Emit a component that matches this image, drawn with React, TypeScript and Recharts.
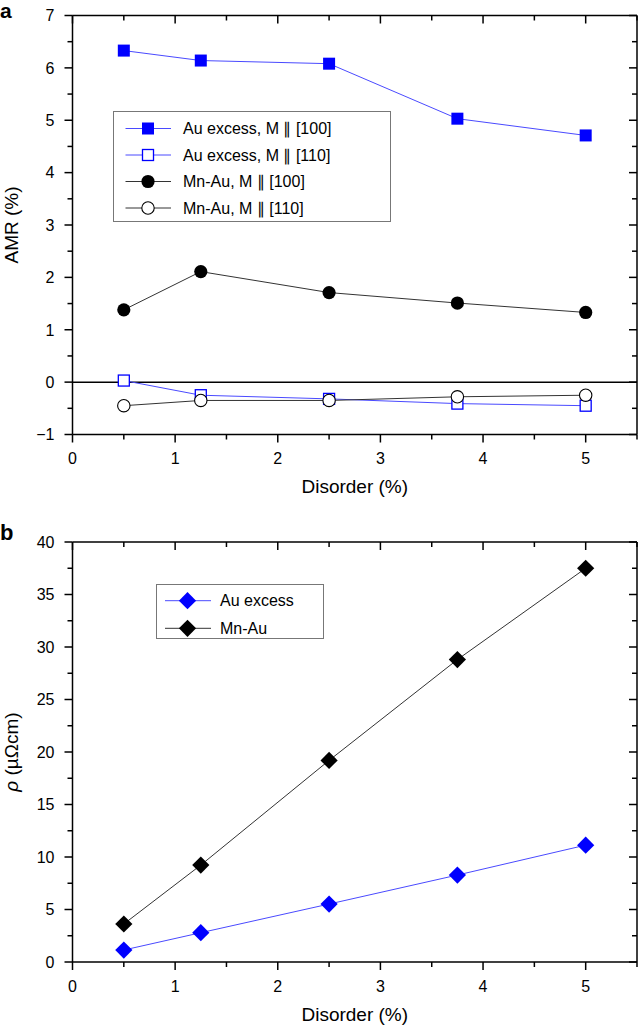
import React from "react";
import { Label, Legend, Line, LineChart, ReferenceLine, XAxis, YAxis } from "recharts";

// values
const disorder = [0.5, 1.25, 2.5, 3.75, 5];
const amrAuExcess100 = [6.33, 6.14, 6.08, 5.03, 4.71];
const amrAuExcess110 = [0.03, -0.25, -0.32, -0.41, -0.45];
const amrMnAu100 = [1.38, 2.11, 1.71, 1.51, 1.33];
const amrMnAu110 = [-0.45, -0.35, -0.35, -0.28, -0.25];
const rhoAuExcess = [1.14, 2.79, 5.52, 8.28, 11.13];
const rhoMnAu = [3.62, 9.23, 19.2, 28.8, 37.5];

const xTicks = [0, 0.5, 1, 1.5, 2, 2.5, 3, 3.5, 4, 4.5, 5, 5.5];
const xTickLabels = [0, 1, 2, 3, 4, 5];
const amrTicks = [-1, -0.5, 0, 0.5, 1, 1.5, 2, 2.5, 3, 3.5, 4, 4.5, 5, 5.5, 6, 6.5, 7];
const amrTickLabels = [-1, 0, 1, 2, 3, 4, 5, 6, 7];
const rhoTicks = [0, 2.5, 5, 7.5, 10, 12.5, 15, 17.5, 20, 22.5, 25, 27.5, 30, 32.5, 35, 37.5, 40];
const rhoTickLabels = [0, 5, 10, 15, 20, 25, 30, 35, 40];

const FONT = "'Liberation Sans', Arial, Helvetica, sans-serif";
const BLUE = "#0000ff";
const BLUE_LINE = "#4a4aff";
const DARK_LINE = "#333333";

const amrData = disorder.map((x, i) => ({
  x,
  au100: amrAuExcess100[i],
  au110: amrAuExcess110[i],
  mn100: amrMnAu100[i],
  mn110: amrMnAu110[i],
}));

const rhoData = disorder.map((x, i) => ({
  x,
  au: rhoAuExcess[i],
  mn: rhoMnAu[i],
}));

type Marker = "square" | "openSquare" | "circle" | "openCircle" | "diamond";

interface Series {
  key: string;
  name: string;
  line: string;
  color: string;
  marker: Marker;
}

const amrSeries: Series[] = [
  { key: "au100", name: "Au excess, M \u2225 [100]", line: BLUE_LINE, color: BLUE, marker: "square" },
  { key: "au110", name: "Au excess, M \u2225 [110]", line: BLUE_LINE, color: BLUE, marker: "openSquare" },
  { key: "mn100", name: "Mn-Au, M \u2225 [100]", line: DARK_LINE, color: "#000", marker: "circle" },
  { key: "mn110", name: "Mn-Au, M \u2225 [110]", line: DARK_LINE, color: "#000", marker: "openCircle" },
];

const rhoSeries: Series[] = [
  { key: "au", name: "Au excess", line: BLUE_LINE, color: BLUE, marker: "diamond" },
  { key: "mn", name: "Mn-Au", line: DARK_LINE, color: "#000", marker: "diamond" },
];

function MarkerShape({ cx, cy, marker, color }: { cx: number; cy: number; marker: Marker; color: string }) {
  if (cx == null || cy == null) return null;
  switch (marker) {
    case "square":
      return <rect x={cx - 6} y={cy - 6} width={12} height={12} fill={color} />;
    case "openSquare":
      return <rect x={cx - 5.5} y={cy - 5.5} width={11} height={11} fill="#fff" stroke={color} strokeWidth={1.3} />;
    case "circle":
      return <circle cx={cx} cy={cy} r={6.6} fill={color} />;
    case "openCircle":
      return <circle cx={cx} cy={cy} r={6.2} fill="#fff" stroke={color} strokeWidth={1.1} />;
    default:
      return (
        <polygon
          points={`${cx},${cy - 8.6} ${cx + 8.6},${cy} ${cx},${cy + 8.6} ${cx - 8.6},${cy}`}
          fill={color}
        />
      );
  }
}

function dotFor(s: Series) {
  return (p: any) => <MarkerShape key={`${s.key}-${p.index}`} cx={p.cx} cy={p.cy} marker={s.marker} color={s.color} />;
}

// bottom axis tick: outward tick + label, plus the inward tick on the top frame
function XTick(props: any) {
  const { x, y, payload, plotTop, labels } = props;
  const v = payload.value;
  const major = labels.includes(v);
  const len = major ? 8 : 5;
  return (
    <g>
      <line x1={x} x2={x} y1={y} y2={y + len} stroke="#000" strokeWidth={1.5} />
      <line x1={x} x2={x} y1={plotTop} y2={plotTop + len} stroke="#000" strokeWidth={1.5} />
      {major && (
        <text x={x} y={y + 29.5} textAnchor="middle" fontFamily={FONT} fontSize={16} fill="#000">
          {v}
        </text>
      )}
    </g>
  );
}

// left axis tick: outward tick + label, plus the inward tick on the right frame
function YTick(props: any) {
  const { x, y, payload, plotRight, labels } = props;
  const v = payload.value;
  const major = labels.includes(v);
  const len = major ? 8 : 5;
  return (
    <g>
      <line x1={x - len} x2={x} y1={y} y2={y} stroke="#000" strokeWidth={1.5} />
      <line x1={plotRight - len} x2={plotRight} y1={y} y2={y} stroke="#000" strokeWidth={1.5} />
      {major && (
        <text x={x - 18} y={y} dy="0.36em" textAnchor="end" fontFamily={FONT} fontSize={16} fill="#000">
          {v < 0 ? `\u2212${Math.abs(v)}` : v}
        </text>
      )}
    </g>
  );
}

function makeLegend(series: Series[], box: { w: number; h: number; rows: number[]; lx1: number; lx2: number; mx: number; tx: number }) {
  return (props: any) => {
    const payload: any[] = props.payload || [];
    return (
      <svg width={box.w} height={box.h} style={{ display: "block" }}>
        <rect x={0.5} y={0.5} width={box.w - 1} height={box.h - 1} fill="#fff" stroke="#777" strokeWidth={1} />
        {payload.map((entry, i) => {
          const s = series.find((d) => d.key === entry.dataKey) || series[i];
          const cy = box.rows[i];
          return (
            <g key={s.key}>
              <line x1={box.lx1} x2={box.lx2} y1={cy} y2={cy} stroke={s.line} strokeWidth={1} />
              <MarkerShape cx={box.mx} cy={cy} marker={s.marker} color={s.color} />
              <text x={box.tx} y={cy} dy="0.36em" fontFamily={FONT} fontSize={16} fill="#000">
                {entry.value}
              </text>
            </g>
          );
        })}
      </svg>
    );
  };
}

function RotatedTitle({ viewBox, children }: any) {
  const cy = viewBox.y + viewBox.height / 2;
  const bx = 18.3;
  return (
    <text
      x={bx}
      y={cy}
      transform={`rotate(-90, ${bx}, ${cy})`}
      textAnchor="middle"
      fontFamily={FONT}
      fontSize={19}
      fill="#000"
    >
      {children}
    </text>
  );
}

const W = 638;
const A_H = 500;
const A_MARGIN = { top: 15.5, right: 1, left: 0, bottom: 0 };
const B_H = 516;
const B_TOP = 510;
const B_MARGIN = { top: 32, right: 1, left: 0, bottom: 0 };
const Y_AXIS_W = 72.5;

export default function App() {
  const aLegend = makeLegend(amrSeries, {
    w: 278, h: 111, rows: [17.5, 44, 70.5, 97], lx1: 12.5, lx2: 58, mx: 35, tx: 70,
  });
  const bLegend = makeLegend(rhoSeries, {
    w: 168, h: 55, rows: [16.7, 44.3], lx1: 9, lx2: 55, mx: 31.5, tx: 64,
  });

  return (
    <div style={{ position: "absolute", left: 0, top: 0, width: W, height: 1026, background: "#fff" }}>
      <div style={{ position: "absolute", left: 0, top: 0 }}>
        <LineChart width={W} height={A_H} data={amrData} margin={A_MARGIN}>
          <XAxis
            dataKey="x"
            type="number"
            domain={[0, 5.5]}
            ticks={xTicks}
            interval={0}
            tickLine={false}
            tickSize={0}
            tickMargin={0}
            height={A_H - 434.5}
            axisLine={{ stroke: "#000", strokeWidth: 1.5 }}
            tick={<XTick plotTop={A_MARGIN.top} labels={xTickLabels} />}
          >
            <Label
              value="Disorder (%)"
              position="insideBottom"
              offset={7}
              style={{ fontFamily: FONT, fontSize: 19, fill: "#000" }}
            />
          </XAxis>
          <YAxis
            type="number"
            domain={[-1, 7]}
            ticks={amrTicks}
            interval={0}
            width={Y_AXIS_W}
            tickLine={false}
            tickSize={0}
            tickMargin={0}
            axisLine={{ stroke: "#000", strokeWidth: 1.5 }}
            tick={<YTick plotRight={W - A_MARGIN.right} labels={amrTickLabels} />}
          >
            <Label content={(p: any) => <RotatedTitle viewBox={p.viewBox}>AMR (%)</RotatedTitle>} />
          </YAxis>
          <ReferenceLine y={7} stroke="#000" strokeWidth={1.5} />
          <ReferenceLine x={5.5} stroke="#000" strokeWidth={1.5} />
          <ReferenceLine y={0} stroke="#000" strokeWidth={1.5} />
          {amrSeries.map((s) => (
            <Line
              key={s.key}
              type="linear"
              dataKey={s.key}
              name={s.name}
              stroke={s.line}
              strokeWidth={1}
              dot={dotFor(s)}
              activeDot={false}
              isAnimationActive={false}
            />
          ))}
          <Legend
            layout="vertical"
            align="center"
            verticalAlign="middle"
            content={aLegend}
            wrapperStyle={{ left: 112.5, top: 111, width: 278, height: 111 }}
          />
        </LineChart>
      </div>

      <div style={{ position: "absolute", left: 0, top: B_TOP }}>
        <LineChart width={W} height={B_H} data={rhoData} margin={B_MARGIN}>
          <XAxis
            dataKey="x"
            type="number"
            domain={[0, 5.5]}
            ticks={xTicks}
            interval={0}
            tickLine={false}
            tickSize={0}
            tickMargin={0}
            height={B_H - 452}
            axisLine={{ stroke: "#000", strokeWidth: 1.5 }}
            tick={<XTick plotTop={B_MARGIN.top} labels={xTickLabels} />}
          >
            <Label
              value="Disorder (%)"
              position="insideBottom"
              offset={5.5}
              style={{ fontFamily: FONT, fontSize: 19, fill: "#000" }}
            />
          </XAxis>
          <YAxis
            type="number"
            domain={[0, 40]}
            ticks={rhoTicks}
            interval={0}
            width={Y_AXIS_W}
            tickLine={false}
            tickSize={0}
            tickMargin={0}
            axisLine={{ stroke: "#000", strokeWidth: 1.5 }}
            tick={<YTick plotRight={W - B_MARGIN.right} labels={rhoTickLabels} />}
          >
            <Label
              content={(p: any) => (
                <RotatedTitle viewBox={p.viewBox}>
                  <tspan fontStyle="italic">{"\u03c1"}</tspan>
                  {" (\u00b5\u03a9cm)"}
                </RotatedTitle>
              )}
            />
          </YAxis>
          <ReferenceLine y={40} stroke="#000" strokeWidth={1.5} />
          <ReferenceLine x={5.5} stroke="#000" strokeWidth={1.5} />
          {rhoSeries.map((s) => (
            <Line
              key={s.key}
              type="linear"
              dataKey={s.key}
              name={s.name}
              stroke={s.line}
              strokeWidth={1}
              dot={dotFor(s)}
              activeDot={false}
              isAnimationActive={false}
            />
          ))}
          <Legend
            layout="vertical"
            align="center"
            verticalAlign="middle"
            content={bLegend}
            wrapperStyle={{ left: 156, top: 74, width: 168, height: 55 }}
          />
        </LineChart>
      </div>

      <svg width={W} height={1026} style={{ position: "absolute", left: 0, top: 0, pointerEvents: "none" }}>
        <text x={0} y={17.5} fontFamily={FONT} fontWeight="bold" fontSize={21} fill="#000">a</text>
        <text x={0} y={540} fontFamily={FONT} fontWeight="bold" fontSize={22} fill="#000">b</text>
      </svg>
    </div>
  );
}
